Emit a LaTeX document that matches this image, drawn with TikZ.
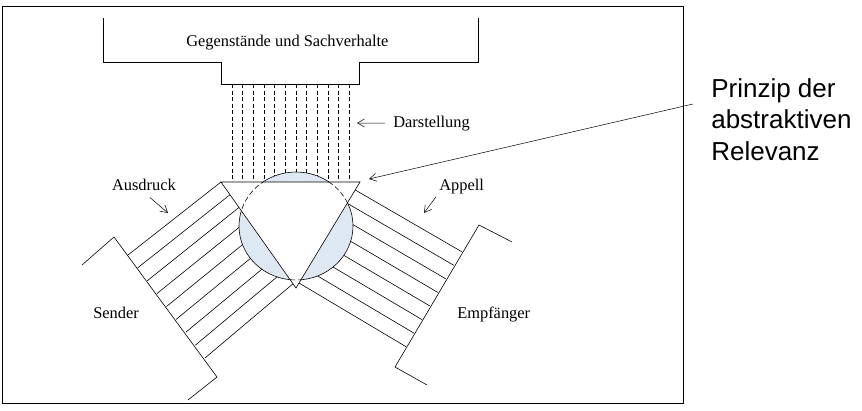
\documentclass[tikz,border=0pt]{standalone}
\usepackage{fontspec}
\setmainfont{Liberation Serif}
\newfontfamily\arialfont{Liberation Sans}
\usetikzlibrary{arrows.meta,calc}
\definecolor{linse}{RGB}{222,232,243}

\tikzset{
  pfeil/.style={-{Straight Barb[length=7pt,width=8pt]}, line width=0.5pt},
  etikett/.style={anchor=base west, inner sep=0pt, font=\fontsize{16.4}{19}\selectfont},
  strahl/.style={dash pattern=on 4pt off 2.5pt, line width=0.5pt},
}

\begin{document}
\begin{tikzpicture}[x=1pt, y=-1pt, line width=0.6pt]
  \useasboundingbox (0,0) rectangle (862,410);
  \draw[line width=0.9pt] (2,6) rectangle (683,403);

  % Gegenstaende und Sachverhalte
  \draw (103,18) -- (103,62) -- (221,62) -- (221,84) -- (359,84) -- (359,62) -- (478,62) -- (478,18);
  \node[etikett] (gegen) at (186,46) {Gegenstände und Sachverhalte};
  \foreach \i in {0,...,11} {
    \draw[strahl] (232+\i*10.64, 84) -- (232+\i*10.64, 182);
  }

  \coordinate (tl) at (221,182);
  \coordinate (tr) at (360,182);
  \coordinate (apex) at (296,288);

  % Sender
  \draw (82,265) -- (114,237) -- (217,377) -- (188,400);
  \foreach \i in {0,...,8} {
    \draw ($(128,255)!\i/8!(205,358)$) -- ($(tl)!{\i*0.12}!(apex)$);
  }
  % Empfaenger
  \draw (512,242) -- (479,225) -- (395,367) -- (427,385);
  \foreach \i in {0,...,7} {
    \draw ($(461.7,251.7)!\i/7!(406,346.7)$) -- ($(tr)!{0.075+\i*0.1254}!(apex)$);
  }

  % Kreis und Dreieck
  \filldraw[fill=linse] (296,226) ellipse [x radius=57, y radius=54];
  \fill[white] (tl) -- (tr) -- (apex) -- cycle;
  \begin{scope}
    \clip (tl) -- (tr) -- (apex) -- cycle;
    \draw[dash pattern=on 5pt off 3pt] (296,226) ellipse [x radius=57, y radius=54];
  \end{scope}
  \draw (tl) -- (tr) -- (apex) -- cycle;

  % Beschriftungen
  \node[etikett] (darst) at (393,127) {Darstellung};
  \coordinate (dTip) at (357,123);
  \draw[pfeil] ([xshift=-8pt]darst.west) -- (dTip);

  \node[etikett] (ausdruck) at (111.7,190) {Ausdruck};
  \coordinate (aTip) at (168,213);
  \draw[pfeil] ([shift={(6,7)}]ausdruck.south) -- (aTip);

  \node[etikett] (appell) at (439,190) {Appell};
  \coordinate (apTip) at (424,213);
  \draw[pfeil] ([shift={(-3,3)}]appell.south west) -- (apTip);

  \node[etikett] (sender) at (93,318) {Sender};
  \node[etikett] (empf) at (457,318) {Empfänger};

  \node[anchor=base west, inner sep=0pt, align=left, font=\arialfont\fontsize{26}{31.5}\selectfont] (prinzip) at (711,160) {Prinzip der\\abstraktiven\\Relevanz};
  \coordinate (pTip) at (369,179);
  \draw[pfeil] ([shift={(-18,-56)}]prinzip.base west) -- (pTip);
\end{tikzpicture}
\end{document}
